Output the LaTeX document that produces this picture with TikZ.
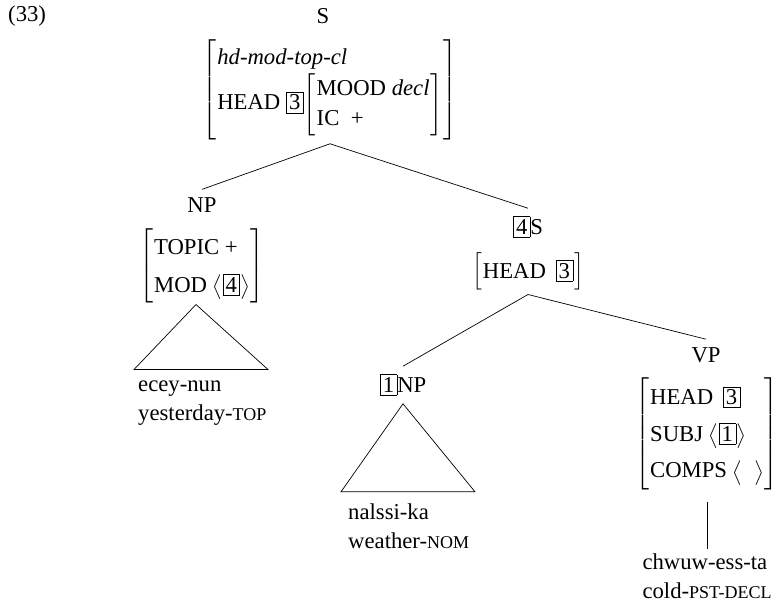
\documentclass[tikz,border=0pt]{standalone}
\usepackage{amsmath}
\usepackage{fontspec}
\setmainfont{Liberation Serif}
\usepackage{tikz}
\usetikzlibrary{positioning}

\newcommand{\tg}[1]{{\setlength{\fboxsep}{2.5pt}\setlength{\fboxrule}{0.6pt}\fbox{#1}}}
\newcommand{\gl}[1]{{\fontsize{18}{20}\selectfont #1}}
\newcommand{\avm}[2][1.0]{{\renewcommand{\arraystretch}{#1}$\left[\begin{tabular}{@{\hspace{1pt}}l@{\hspace{1pt}}}#2\end{tabular}\right]$}}

\begin{document}
\begin{tikzpicture}[x=1pt,y=1pt,
	font=\fontsize{22.7}{30}\selectfont,
	cat/.style={inner sep=8pt},
	avmbox/.style={inner sep=4pt},
	leaf/.style={align=left,inner sep=4pt,font=\fontsize{22.7}{29}\selectfont},
	branch/.style={line width=0.7pt}]
		\useasboundingbox (0,0) rectangle (778,608);
		\node[anchor=west,inner sep=0pt] (ex) at (8,592) {(33)};
		\node[cat] (s) at (323,592) {S};
		\node[avmbox,below=4pt of s,xshift=7pt] (savm) {\avm{\textit{hd-mod-top-cl}\\ HEAD \tg{3}\avm{MOOD \textit{decl}\\ IC\ \ +}}};
		\node[cat] (np) at (202,403) {NP};
		\node[avmbox,below=3.5pt of np] (npavm) {\avm[1.25]{TOPIC +\\ MOD $\bigl\langle\tg{4}\bigr\rangle$}};
		\node[leaf,anchor=base west] (ecey) at (134,188) {ecey-nun\\yesterday-\gl{TOP}};
		\node[cat] (s4) at (528,381) {\tg{4}S};
		\node[avmbox,below=3pt of s4] (hdavm) {\avm[1.1]{HEAD \hspace{4pt}\tg{3}\hspace{2pt}}};
		\node[cat] (np1) at (403,223) {\tg{1}NP};
		\node[leaf,anchor=base west] (nalssi) at (344,60) {nalssi-ka\\weather-\gl{NOM}};
		\node[cat] (vp) at (706,253) {VP};
		\node[avmbox,below=3pt of vp,xshift=1pt] (vpavm) {\avm[1.22]{HEAD \hspace{4pt}\tg{3}\\ SUBJ $\bigl\langle\tg{1}\bigr\rangle$\\ COMPS $\bigl\langle\;\;\bigr\rangle$}};
		\node[leaf,below=55pt of vpavm] (chw) {chwuw-ess-ta\\cold-\gl{PST-DECL}};

		\draw[branch] (savm.south)--(np.north);
		\draw[branch] (savm.south)--(s4.north);
		\draw[branch] (hdavm.south)--(np1.north);
		\draw[branch] (hdavm.south)--(vp.north);
		\draw[branch] ([xshift=-6pt,yshift=3pt]npavm.south)--++(-62,-65)--++(134,0)--cycle;
		\draw[branch] (np1.south)--++(-62,-88)--++(134,0)--cycle;
		\draw[branch] ([yshift=-8pt]vpavm.south)--(chw.north);
	\end{tikzpicture}
\end{document}
